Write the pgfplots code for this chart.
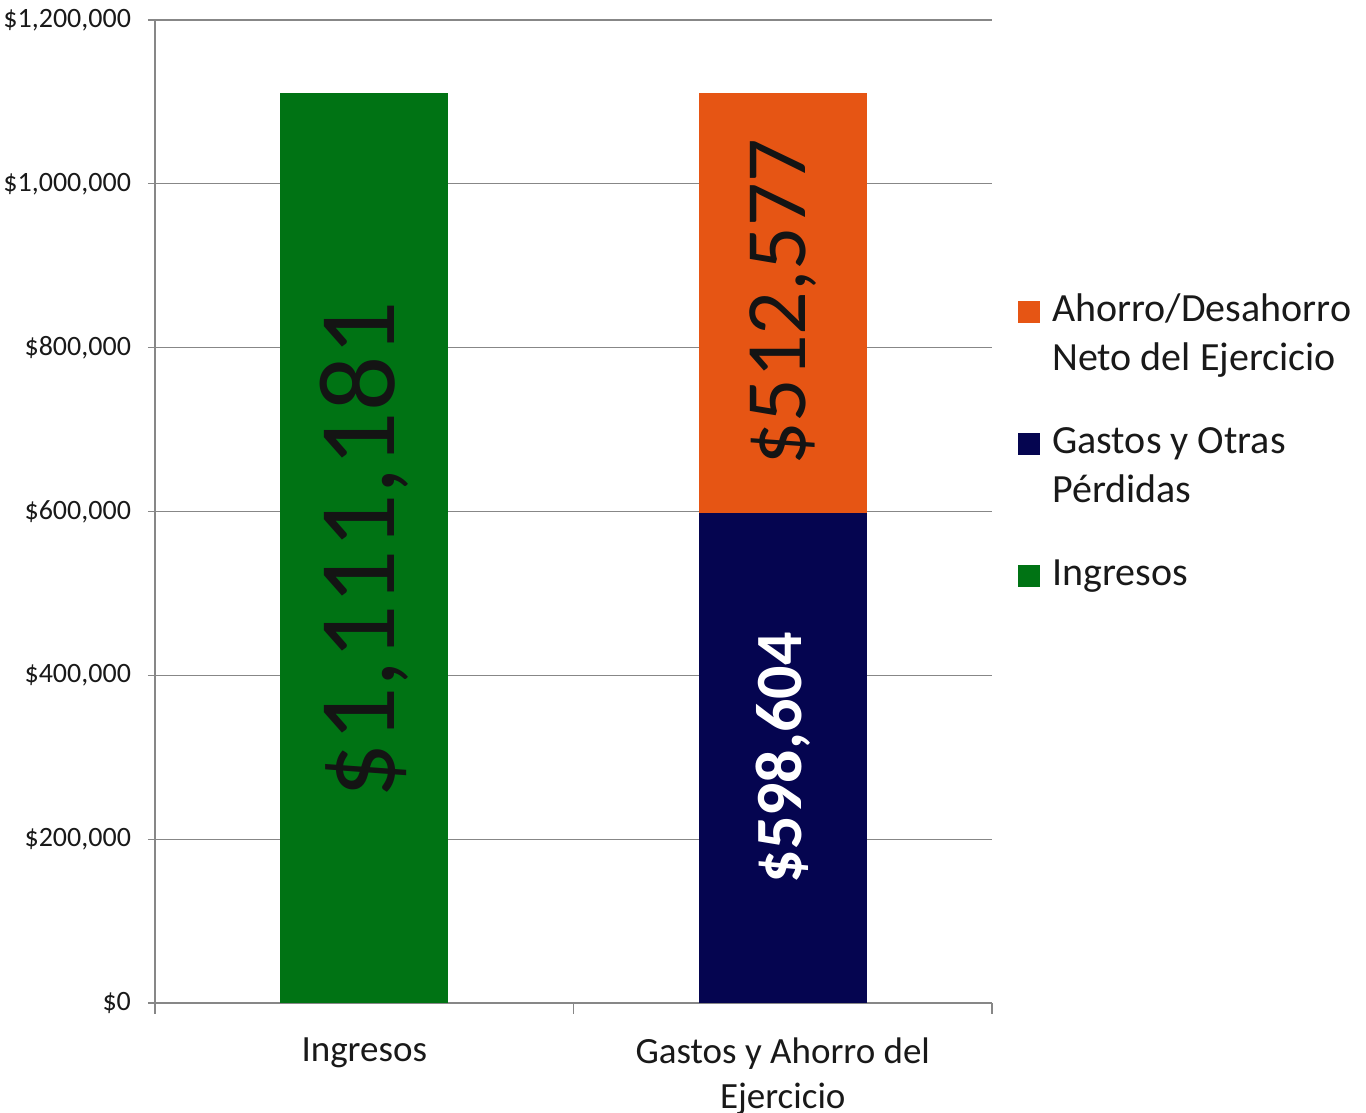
\documentclass[border=0pt]{standalone}
\usepackage{graphicx}
\usepackage{pgfplots}
\pgfplotsset{compat=1.18}
\usepackage{fontspec}
\setmainfont{Carlito}
\definecolor{cgreen}{RGB}{0,115,20}
\definecolor{cnavy}{RGB}{5,5,80}
\definecolor{corange}{RGB}{230,85,20}
\definecolor{cgrid}{RGB}{135,135,135}
\definecolor{ctext}{RGB}{25,25,25}
\begin{document}
\begin{tikzpicture}
\begin{axis}[
  scale only axis, width=418.5pt, height=491.5pt,
  ybar stacked, bar width=84pt,
  xmin=-0.5, xmax=1.5, ymin=0, ymax=1200000,
  xtick={0,1},
  xticklabels={Ingresos, {Gastos y Ahorro del\\Ejercicio}},
  xticklabel style={align=center, font=\fontsize{18.5}{22.5}\selectfont, text=ctext, yshift=-10.5pt},
  major x tick style={draw=none},
  minor xtick={-0.5,0.5,1.5},
  minor tick length=5.5pt,
  major tick length=3.5pt,
  tick align=outside,
  ytick={0,200000,400000,600000,800000,1000000,1200000},
  yticklabels={\$0,{\$200,000},{\$400,000},{\$600,000},{\$800,000},{\$1,000,000},{\$1,200,000}},
  scaled y ticks=false,
  yticklabel style={font=\fontsize{14}{16}\selectfont, text=ctext, xshift=-5pt},
  ymajorgrids,
  grid style={cgrid, line width=0.6pt},
  axis x line*=bottom, axis y line*=left,
  axis line style={cgrid, line width=0.6pt},
  every tick/.style={cgrid, line width=0.6pt},
  reverse legend,
  legend cell align=left,
  legend style={at={(1.031,0.715)}, anchor=north west, draw=none, fill=none, inner sep=0pt,
    font=\fontsize{20}{24.5}\selectfont, text=ctext, row sep=52.25pt, column sep=4pt,
    nodes={inner sep=2pt}},
]
\addplot[fill=cgreen, draw=none,
  legend image code/.code={\fill[cgreen] (0pt,0pt) rectangle (11pt,11pt);}]
  coordinates {(0,1111181) (1,0)};
\addplot[fill=cnavy, draw=none,
  legend image code/.code={\fill[cnavy] (0pt,0pt) rectangle (11pt,11pt);}]
  coordinates {(0,0) (1,598604)};
\addplot[fill=corange, draw=none,
  legend image code/.code={\fill[corange] (0pt,0pt) rectangle (11pt,11pt);}]
  coordinates {(0,0) (1,512577)};
\addlegendentry{\smash{\parbox[t]{160pt}{Ingresos}}}
\addlegendentry{\smash{\parbox[t]{160pt}{Gastos y Otras\\Pérdidas}}}
\addlegendentry{\smash{\parbox[t]{160pt}{Ahorro/Desahorro\\Neto del Ejercicio}}}
\coordinate (L1) at (axis cs:0,555590);
\coordinate (L2) at (axis cs:1,854892);
\coordinate (L3) at (axis cs:1,299302);
\end{axis}
\node[rotate=90, font=\fontsize{54.5}{54.5}\selectfont, text=black!92, xshift=-1pt] at (L1) {\$1,111,181};
\node[rotate=90, font=\fontsize{43}{43}\selectfont, text=black!92] at (L2) {\$512,577};
\node[rotate=90, font=\bfseries\fontsize{33}{33}\selectfont, text=white] at (L3) {\$598,604};
\pgfresetboundingbox
\path ([shift={(-77.5pt,-55pt)}]current axis.south west) rectangle ([shift={(605.5pt,501.5pt)}]current axis.south west);
\end{tikzpicture}
\end{document}
